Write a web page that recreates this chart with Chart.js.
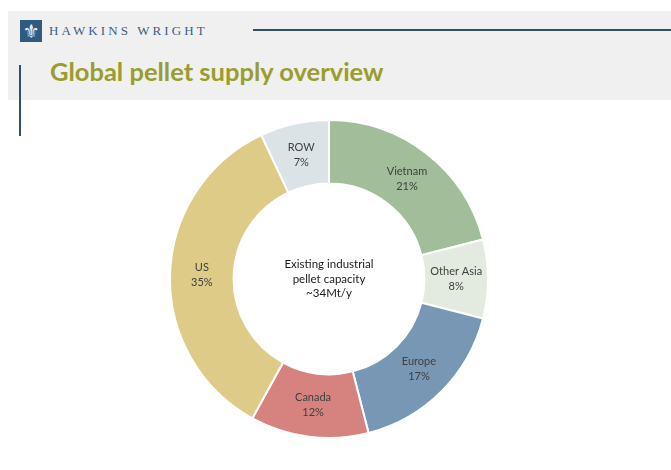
<!DOCTYPE html>
<html>
<head>
<meta charset="utf-8">
<script src="https://cdn.jsdelivr.net/npm/chart.js@4/dist/chart.umd.min.js"></script>
<style>
  html, body { margin: 0; padding: 0; background: #fff; }
  body { width: 671px; height: 470px; position: relative; overflow: hidden; font-family: Lato, "Open Sans", sans-serif; }
  .band { position: absolute; left: 8px; top: 11px; width: 663px; height: 89px; background: #f0f0f0; }
  .logo { position: absolute; left: 20px; top: 20px; width: 22px; height: 22px; background: #2f5a82;
          color: #e8eef4; font: 19px "DejaVu Sans"; line-height: 22px; text-align: center; }
  .brand { position: absolute; left: 49px; top: 23px; font: 13px "Liberation Serif", serif; letter-spacing: 3.1px; color: #3a5f86; }
  .rule { position: absolute; left: 253px; top: 29px; width: 418px; height: 2px; background: #2f4f70; }
  .title { position: absolute; left: 50px; top: 56px; font: bold 25.5px Lato, sans-serif; color: #9a9d2c; }
  .side { position: absolute; left: 19px; top: 65px; width: 2px; height: 71px; background: #2f4f70; }
  .chart { position: absolute; left: 169px; top: 119px; width: 320px; height: 320px; }
</style>
</head>
<body>
<div class="band"></div>
<div class="logo">⚜</div>
<div class="brand">HAWKINS WRIGHT</div>
<div class="rule"></div>
<div class="title">Global pellet supply overview</div>
<div class="side"></div>
<div class="chart"><canvas id="c"></canvas></div>
<script>
// share of existing industrial pellet capacity, clockwise from 12 o'clock
const regions = ['Vietnam', 'Other Asia', 'Europe', 'Canada', 'US', 'ROW'];
const shares = [21, 8, 17, 12, 35, 7];
const colours = ['#a1bd99', '#e3ebe0', '#7797b5', '#d6837f', '#ddcb87', '#dce3e7'];
const centreLines = ['Existing industrial', 'pellet capacity', '~34Mt/y'];

// name + percentage in the middle of each ring segment
const sliceLabels = {
  id: 'sliceLabels',
  afterDatasetsDraw(chart) {
    const ctx = chart.ctx;
    const meta = chart.getDatasetMeta(0);
    ctx.save();
    ctx.font = '11px Lato, sans-serif';
    ctx.fillStyle = '#404040';
    ctx.textAlign = 'center';
    ctx.textBaseline = 'middle';
    meta.data.forEach((arc, i) => {
      const p = arc.getProps(['x', 'y', 'startAngle', 'endAngle', 'innerRadius', 'outerRadius']);
      const a = (p.startAngle + p.endAngle) / 2;
      const r = (p.innerRadius + p.outerRadius) / 2;
      const x = p.x + Math.cos(a) * r;
      const y = p.y + Math.sin(a) * r;
      ctx.fillText(regions[i], x, y - 7.5);
      ctx.fillText(shares[i] + '%', x, y + 7.5);
    });
    ctx.restore();
  }
};

// caption in the hole of the doughnut
const centreText = {
  id: 'centreText',
  afterDatasetsDraw(chart) {
    const ctx = chart.ctx;
    const arc = chart.getDatasetMeta(0).data[0];
    ctx.save();
    ctx.font = '11.5px Lato, sans-serif';
    ctx.fillStyle = '#1a1a1a';
    ctx.textAlign = 'center';
    ctx.textBaseline = 'middle';
    centreLines.forEach((t, i) => ctx.fillText(t, arc.x, arc.y + (i - 1) * 14.5));
    ctx.restore();
  }
};

new Chart(document.getElementById('c'), {
  type: 'doughnut',
  data: {
    labels: regions,
    datasets: [{
      data: shares,
      backgroundColor: colours,
      borderColor: '#ffffff',
      borderWidth: 2
    }]
  },
  options: {
    responsive: true,
    maintainAspectRatio: false,
    animation: false,
    cutout: '60%',
    layout: { padding: 0 },
    plugins: {
      legend: { display: false },
      tooltip: { enabled: false }
    }
  },
  plugins: [sliceLabels, centreText]
});
</script>
</body>
</html>
